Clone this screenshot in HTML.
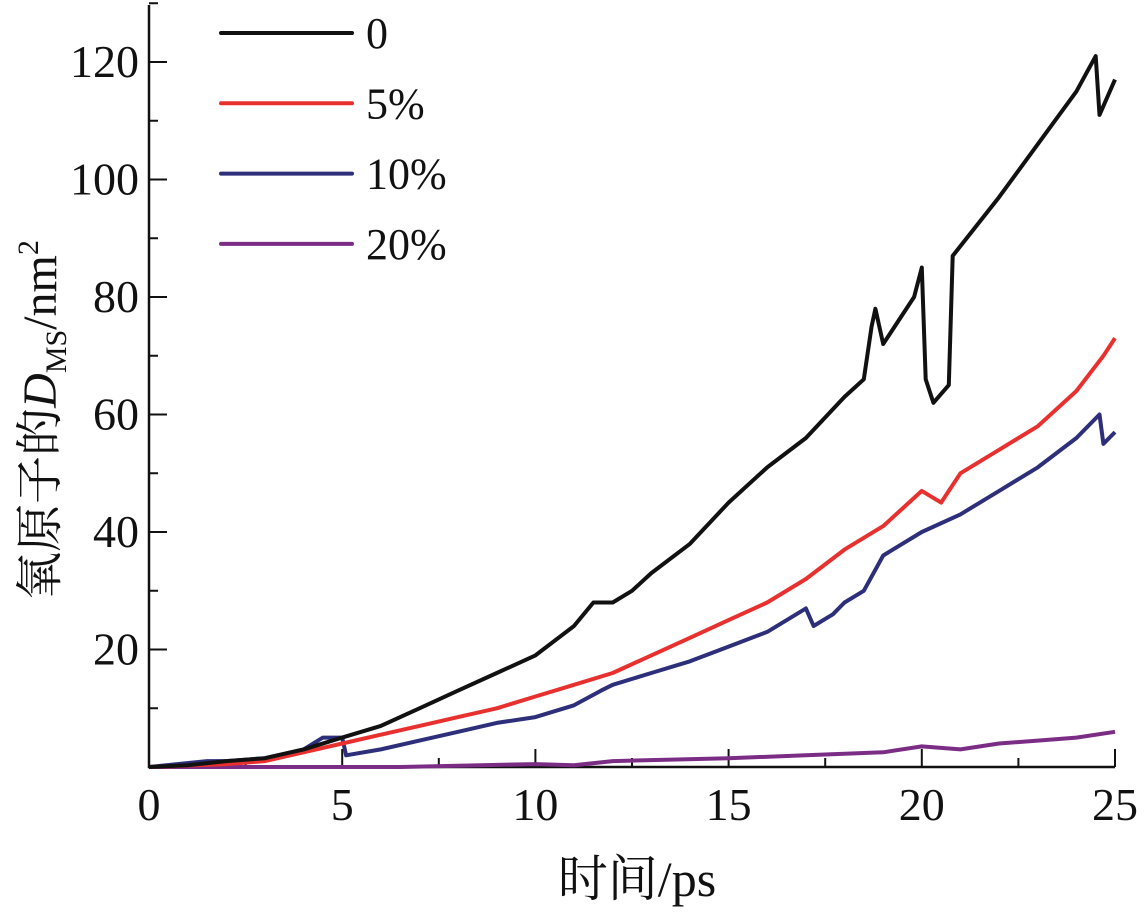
<!DOCTYPE html>
<html><head><meta charset="utf-8"><style>
body{margin:0;background:#fff}
svg text{font-family:"Liberation Serif","Noto Serif CJK SC",serif;fill:#111}
</style></head><body>
<svg id="chart" width="1144" height="913" xmlns="http://www.w3.org/2000/svg"></svg>
<script>
const xTicks=[0,5,10,15,20,25];
const yTicks=[20,40,60,80,100,120];
const seriesNames=["0","5%","10%","20%"];
const seriesColors=["#111111","#e8312f","#2e2f7a","#7b2d86"];
const blackX=[0,1,2,3,4,5,6,7,8,9,10,11,11.5,12,12.5,13,14,15,16,17,18,18.5,18.7,18.8,19,19.8,20,20.1,20.3,20.7,20.8,22,23,24,24.5,24.6,25];
const blackY=[0,0.3,1,1.5,3,5,7,10,13,16,19,24,28,28,30,33,38,45,51,56,63,66,75,78,72,80,85,66,62,65,87,97,106,115,121,111,117];
const redX=[0,2,3,4,5,6,7,8,9,10,11,12,13,14,15,16,17,18,19,20,20.5,21,22,23,24,24.7,25];
const redY=[0,0.5,1,2.5,4,5.5,7,8.5,10,12,14,16,19,22,25,28,32,37,41,47,45,50,54,58,64,70,73];
const blueX=[0,1.5,2,3,4,4.5,5,5.1,6,7,8,9,10,11,11.7,12,13,14,15,16,17,17.2,17.7,18,18.5,19,20,21,22,23,24,24.6,24.7,25];
const blueY=[0,1,1,1.5,3,5,5,2,3,4.5,6,7.5,8.5,10.5,13,14,16,18,20.5,23,27,24,26,28,30,36,40,43,47,51,56,60,55,57];
const purpleX=[0,6.5,10,11,12,15,17,19,20,21,22,23,24,25];
const purpleY=[0,0,0.5,0.3,1,1.5,2,2.5,3.5,3,4,4.5,5,6];
const allX=[blackX,redX,blueX,purpleX], allY=[blackY,redY,blueY,purpleY];

const NS="http://www.w3.org/2000/svg", svg=document.getElementById('chart');
const X0=149,X1=1115,Y0=767,Y120=62;
const sx=v=>X0+(X1-X0)*v/25, sy=v=>Y0-(Y0-Y120)*v/120;
function mk(t,a,p){const e=document.createElementNS(NS,t);for(const k in a)e.setAttribute(k,a[k]);(p||svg).appendChild(e);return e;}

const ax=mk('path',{d:`M${X0},5 V${Y0} H${X1}`,stroke:'#111','stroke-width':2.5,fill:'none'});


for(let v=0;v<=25;v+=2.5){const major=v%5===0;const t=mk('line',{x1:sx(v),x2:sx(v),y1:Y0,y2:Y0-(major?18:9),stroke:'#111','stroke-width':2});

}
for(let v=10;v<=130;v+=10){const major=v%20===0;const t=mk('line',{x1:X0,x2:X0+(major?18:9),y1:sy(v),y2:sy(v),stroke:'#111','stroke-width':2});

}
xTicks.forEach(v=>{const t=mk('text',{x:sx(v),y:820,'font-size':46,'text-anchor':'middle'});t.textContent=v;

});
yTicks.forEach(v=>{const t=mk('text',{x:139,y:sy(v)+15,'font-size':46,'text-anchor':'end'});t.textContent=v;

});
const xt=mk('text',{x:637,y:896,'font-size':50,'text-anchor':'middle'});xt.textContent='时间/ps';


const yt=mk('text',{transform:'translate(56,420) rotate(-90)','font-size':48,'text-anchor':'middle'});
yt.innerHTML='氧原子的<tspan font-style="italic">D</tspan><tspan font-size="30" dy="10">MS</tspan><tspan dy="-10">/nm</tspan><tspan font-size="30" dy="-18">2</tspan>';



for(let i=3;i>=0;i--){
  const pts=allX[i].map((x,j)=>sx(x).toFixed(1)+','+sy(allY[i][j]).toFixed(1)).join(' ');
  const l=mk('polyline',{points:pts,fill:'none',stroke:seriesColors[i],'stroke-width':4,'stroke-linejoin':'round'});
  
  
}
seriesNames.forEach((n,i)=>{const y=33+70.3*i;
  const g=mk('g',{});
  
  
  mk('line',{x1:221,x2:352,y1:y,y2:y,stroke:seriesColors[i],'stroke-width':4,'stroke-linecap':'round'},g);
  const t=mk('text',{x:366,y:y+15,'font-size':44},g);t.textContent=n;});
</script>
</body></html>
